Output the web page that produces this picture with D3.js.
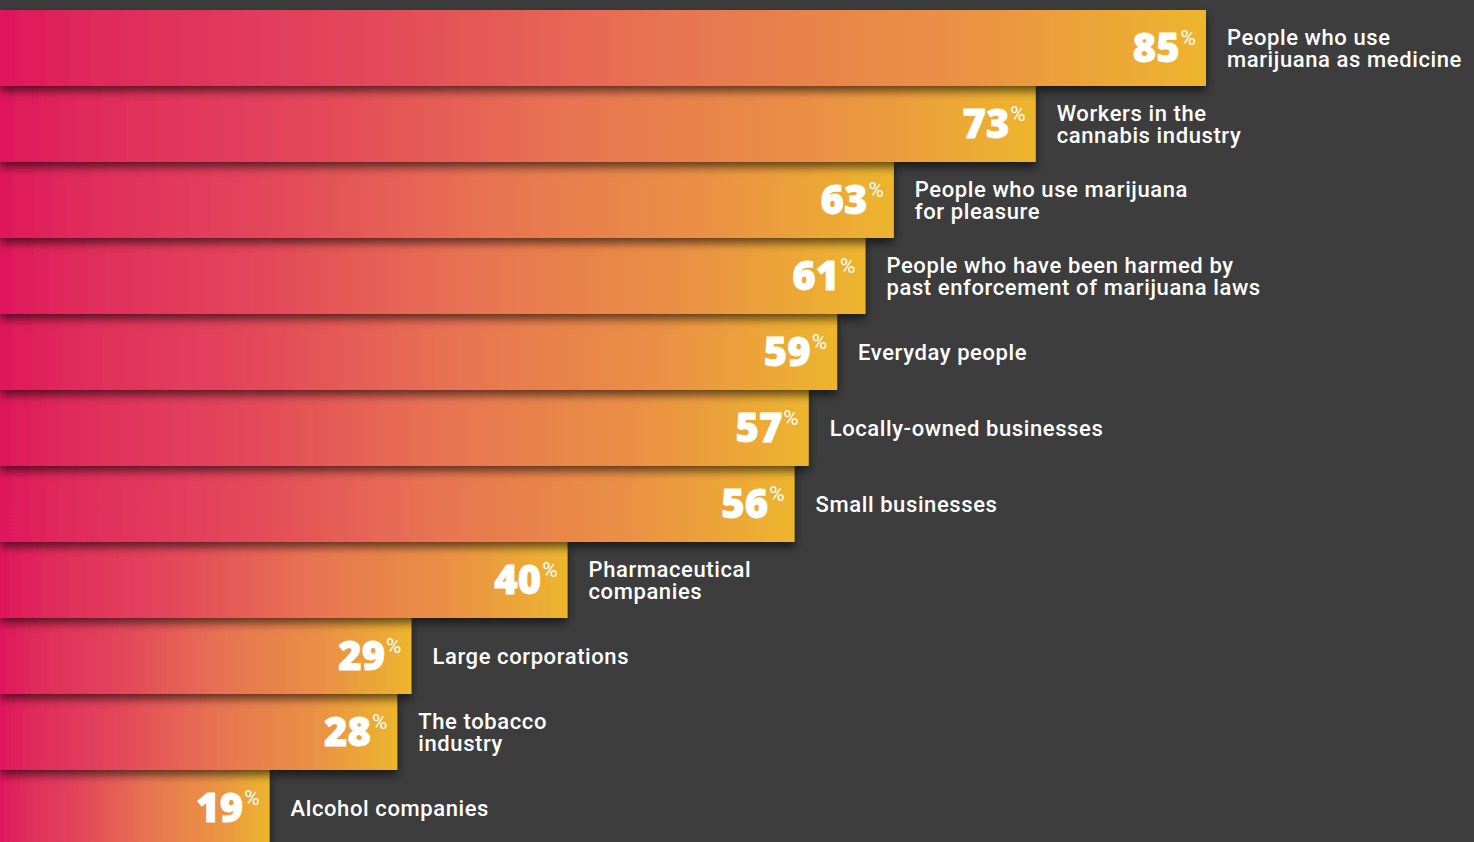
<!DOCTYPE html>
<html>
<head>
<meta charset="utf-8">
<script src="https://cdn.jsdelivr.net/npm/d3@7/dist/d3.min.js"></script>
<style>
  html, body { margin: 0; padding: 0; background: #3d3d3d; overflow: hidden; }
  svg { display: block; }
</style>
</head>
<body>
<svg id="chart" width="1474" height="842"></svg>
<script>
const categories = [
  ["People who use", "marijuana as medicine"],
  ["Workers in the", "cannabis industry"],
  ["People who use marijuana", "for pleasure"],
  ["People who have been harmed by", "past enforcement of marijuana laws"],
  ["Everyday people"],
  ["Locally-owned businesses"],
  ["Small businesses"],
  ["Pharmaceutical", "companies"],
  ["Large corporations"],
  ["The tobacco", "industry"],
  ["Alcohol companies"]
];
const values = [85, 73, 63, 61, 59, 57, 56, 40, 29, 28, 19];

const W = 1474, H = 842;
const svg = d3.select("#chart");

svg.append("rect").attr("width", W).attr("height", H).attr("fill", "#3d3d3d");

const defs = svg.append("defs");
const grad = defs.append("linearGradient")
  .attr("id", "barGrad")
  .attr("x1", "0%").attr("x2", "100%").attr("y1", "0%").attr("y2", "0%");
[[0, "#df165c"], [0.08, "#e02a5c"], [0.3, "#e3475a"], [0.55, "#e87452"], [0.8, "#ea9244"], [1, "#edb52d"]]
  .forEach(([o, c]) => grad.append("stop").attr("offset", o).attr("stop-color", c));

const filt = defs.append("filter").attr("id", "shadow")
  .attr("x", "-5%").attr("y", "-20%").attr("width", "110%").attr("height", "160%");
filt.append("feDropShadow")
  .attr("dx", 0).attr("dy", 5).attr("stdDeviation", 5)
  .attr("flood-color", "#000").attr("flood-opacity", 0.6);

const x = d3.scaleLinear().domain([0, 85]).range([0, 1206]);
const y = d3.scaleBand().domain(d3.range(values.length)).range([10, 10 + 76 * values.length]).padding(0);

const data = values.map((v, i) => ({ v, i, label: categories[i] }));

// draw from bottom to top so each bar's shadow falls on the bar below
const g = svg.append("g");
const rows = g.selectAll("g.row")
  .data(data.slice().reverse())
  .join("g").attr("class", "row");

rows.append("rect")
  .attr("x", x(0))
  .attr("y", d => y(d.i))
  .attr("width", d => x(d.v) - x(0))
  .attr("height", y.bandwidth())
  .attr("fill", "url(#barGrad)")
  .attr("filter", "url(#shadow)");

const num = rows.append("text")
  .attr("x", d => x(d.v) - 10)
  .attr("y", d => y(d.i) + y.bandwidth() / 2 + 14)
  .attr("text-anchor", "end")
  .attr("fill", "#ffffff");
num.append("tspan")
  .attr("font-family", "'Open Sans', Lato, sans-serif")
  .attr("font-weight", 800)
  .attr("font-size", 40)
  .attr("stroke", "#ffffff")
  .attr("stroke-width", 0.8)
  .text(d => d.v);
num.append("tspan")
  .attr("font-family", "Roboto, 'Open Sans', sans-serif")
  .attr("font-weight", 400)
  .attr("font-size", 21)
  .attr("dx", 1)
  .attr("dy", -17)
  .text("%");

rows.each(function(d) {
  const row = d3.select(this);
  const cy = y(d.i) + y.bandwidth() / 2;
  const offs = d.label.length === 1 ? [8] : [-3, 19];
  d.label.forEach((line, k) => {
    row.append("text")
      .attr("x", x(d.v) + 21)
      .attr("y", cy + offs[k])
      .attr("fill", "#ffffff")
      .attr("font-family", "Roboto, 'Liberation Sans', sans-serif")
      .attr("font-weight", 500)
      .attr("font-size", 22)
      .attr("letter-spacing", 0.6)
      .text(line);
  });
});
</script>
</body>
</html>
